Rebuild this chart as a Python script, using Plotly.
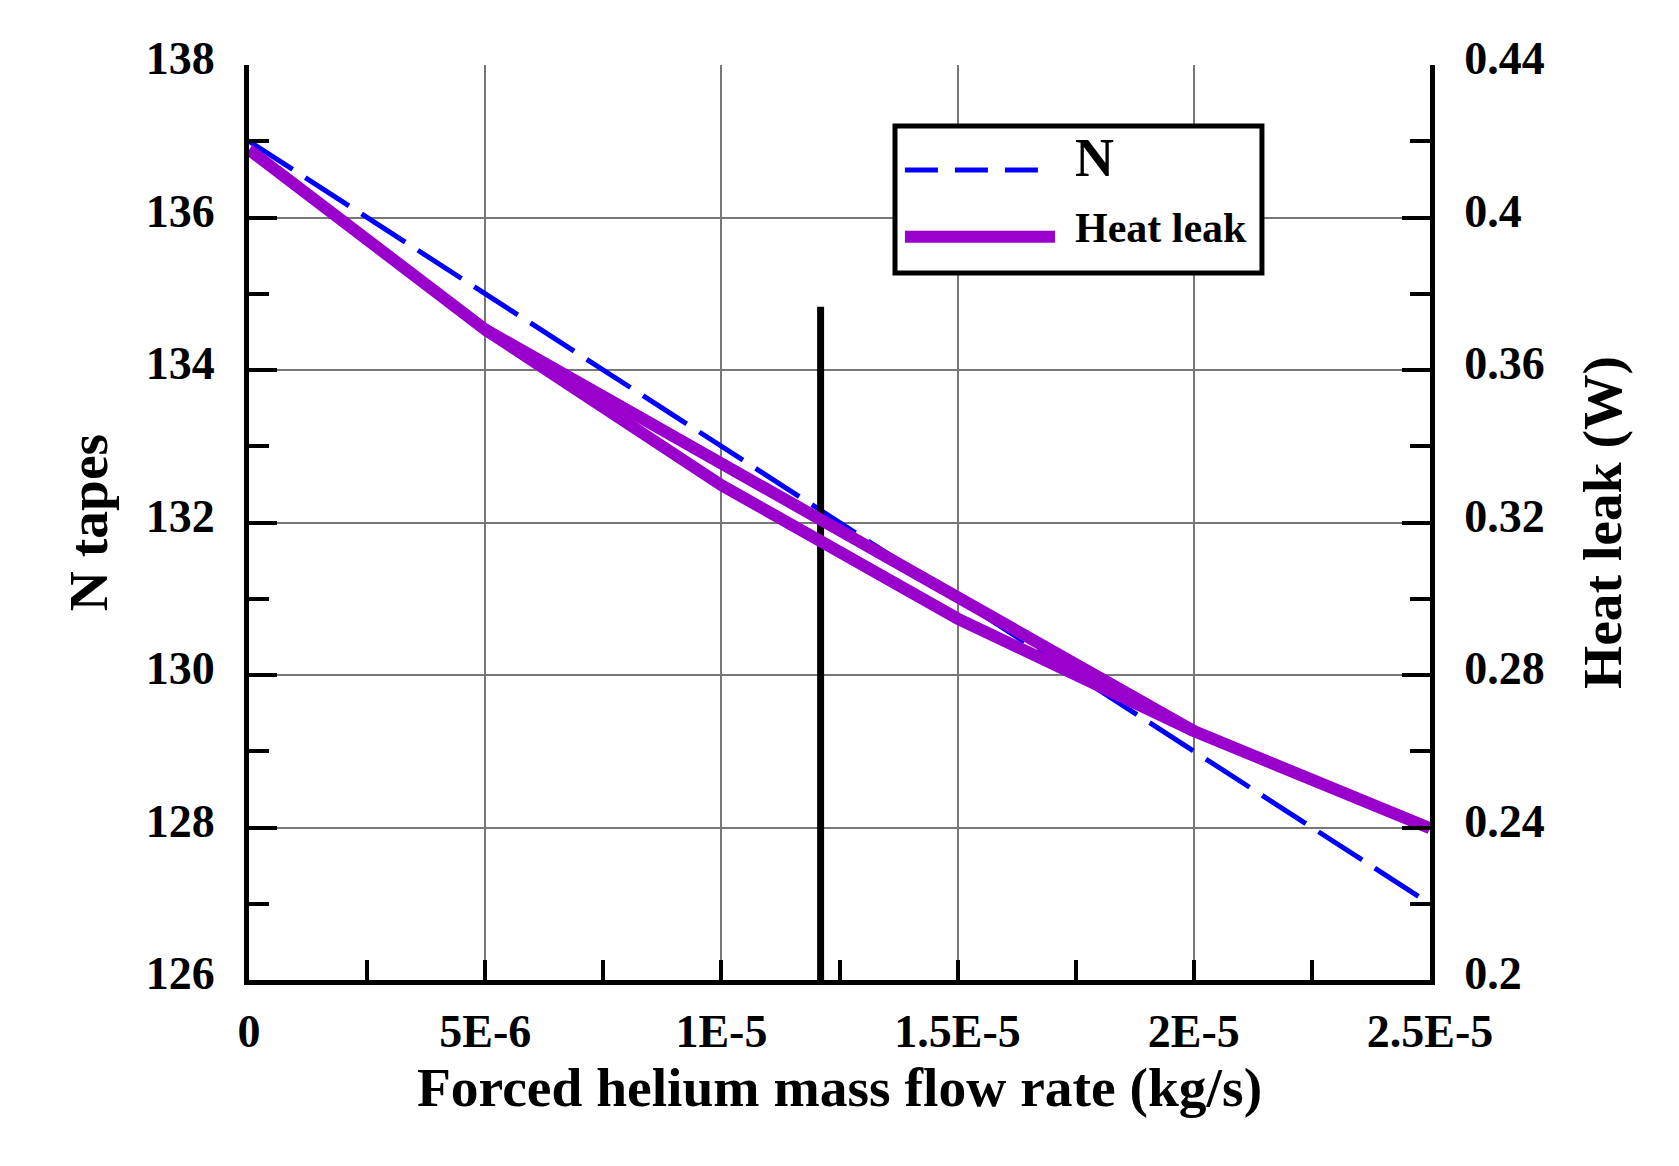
import plotly.graph_objects as go

# ---------------- data ----------------
flow_x = [0, 5e-6, 1e-5, 1.5e-5, 2e-5, 2.5e-5]
n_tapes = [137, 135, 133, 131, 129, 127]
heat_leak = [0.4178, 0.3706, 0.3298, 0.2948, 0.2653, 0.2398]
# second (straight) heat-leak branch visible in the chart
chord_x = [5e-6, 2e-5]
chord_heat = [0.3706, 0.2653]
# vertical marker line
marker_x = [1.21e-5, 1.21e-5]
marker_n = [134.83, 125.9]

x_tickvals = [0, 5e-6, 1e-5, 1.5e-5, 2e-5, 2.5e-5]
x_ticktext = ["0", "5E-6", "1E-5", "1.5E-5", "2E-5", "2.5E-5"]
x_minor = [2.5e-6, 7.5e-6, 1.25e-5, 1.75e-5, 2.25e-5]
y_tickvals = [126, 128, 130, 132, 134, 136, 138]
y_minor = [127, 129, 131, 133, 135, 137]
y2_tickvals = [0.2, 0.24, 0.28, 0.32, 0.36, 0.4, 0.44]
y2_ticktext = ["0.2", "0.24", "0.28", "0.32", "0.36", "0.4", "0.44"]
y2_minor = [0.22, 0.26, 0.30, 0.34, 0.38, 0.42]

FONT = "Liberation Serif"
BLUE = "#0000FF"
PURPLE = "#9900CC"

fig = go.Figure()
fig.add_trace(go.Scatter(x=flow_x, y=n_tapes, mode="lines", name="N",
                         line=dict(color=BLUE, width=5, dash="52px,15px"),
                         showlegend=False))
fig.add_trace(go.Scatter(x=flow_x, y=heat_leak, mode="lines", name="Heat leak",
                         yaxis="y2", line=dict(color=PURPLE, width=12),
                         showlegend=False))
fig.add_trace(go.Scatter(x=chord_x, y=chord_heat, mode="lines", name="Heat leak",
                         yaxis="y2", line=dict(color=PURPLE, width=12),
                         showlegend=False))
fig.add_trace(go.Scatter(x=marker_x, y=marker_n, mode="lines", cliponaxis=False,
                         line=dict(color="black", width=7), showlegend=False,
                         hoverinfo="skip"))

tickfont = dict(family=FONT, size=46, color="black", weight="bold")
titlefont = dict(family=FONT, size=55.5, color="black", weight="bold")

fig.update_layout(
    width=1679, height=1166, autosize=False,
    margin=dict(l=249, r=249, t=65, b=186),
    paper_bgcolor="white", plot_bgcolor="white",
    xaxis=dict(range=[0, 2.5e-5], tickmode="array", tickvals=x_tickvals,
               ticktext=x_ticktext, ticks="inside", ticklen=20, tickwidth=4,
               tickcolor="black", showline=True, linewidth=5, linecolor="black",
               showgrid=True, gridcolor="#777777", gridwidth=2, zeroline=False,
               tickfont=tickfont, ticklabelstandoff=7,
               minor=dict(tickmode="array", tickvals=x_minor, ticks="inside",
                          ticklen=20, tickwidth=4, tickcolor="black", showgrid=False),
               title=dict(text="Forced helium mass flow rate (kg/s)", font=titlefont,
                          standoff=5)),
    yaxis=dict(range=[126, 138], tickmode="array", tickvals=y_tickvals,
               ticks="inside", ticklen=28, tickwidth=4, tickcolor="black",
               showline=True, linewidth=5, linecolor="black",
               showgrid=True, gridcolor="#777777", gridwidth=2, zeroline=False,
               tickfont=tickfont, ticklabelstandoff=20, ticklabelshift=-7,
               minor=dict(tickmode="array", tickvals=y_minor, ticks="inside",
                          ticklen=20, tickwidth=4, tickcolor="black", showgrid=False),
               title=dict(text="N tapes", font=titlefont, standoff=22)),
    yaxis2=dict(range=[0.2, 0.44], overlaying="y", side="right", tickmode="array",
                tickvals=y2_tickvals, ticktext=y2_ticktext,
                ticks="inside", ticklen=28, tickwidth=4, tickcolor="black",
                showline=True, linewidth=5, linecolor="black",
                showgrid=False, zeroline=False,
                tickfont=tickfont, ticklabelstandoff=20, ticklabelshift=-7,
                minor=dict(tickmode="array", tickvals=y2_minor, ticks="inside",
                           ticklen=20, tickwidth=4, tickcolor="black", showgrid=False),
                title=dict(text="Heat leak (W)", font=titlefont, standoff=40)),
    showlegend=False,
)

# manual legend box (layout decoration)
fig.add_shape(type="rect", xref="paper", yref="paper", x0=0.547, x1=0.8577,
              y0=0.7727, y1=0.9333, line=dict(color="black", width=5),
              fillcolor="white", layer="above")
fig.add_shape(type="line", xref="paper", yref="paper", x0=0.5554, x1=0.6808,
              y0=0.8852, y1=0.8852, line=dict(color=BLUE, width=5, dash="33px,17px"),
              layer="above")
fig.add_shape(type="line", xref="paper", yref="paper", x0=0.5554, x1=0.6825,
              y0=0.8124, y1=0.8124, line=dict(color=PURPLE, width=12), layer="above")
fig.add_annotation(xref="paper", yref="paper", x=0.6977, y=0.8984, text="N",
                   showarrow=False, xanchor="left", yanchor="middle",
                   font=dict(family=FONT, size=54, color="black", weight="bold"))
fig.add_annotation(xref="paper", yref="paper", x=0.6977, y=0.8219, text="Heat leak",
                   showarrow=False, xanchor="left", yanchor="middle",
                   font=dict(family=FONT, size=42, color="black", weight="bold"))

fig.write_html("out.html")
